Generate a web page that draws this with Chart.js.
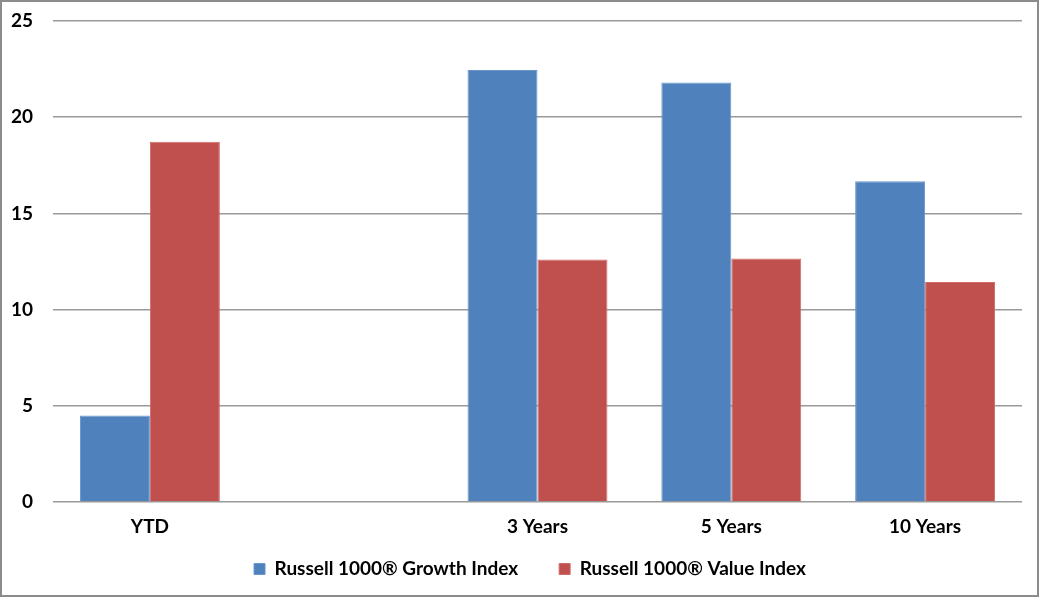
<!DOCTYPE html>
<html>
<head>
<meta charset="utf-8">
<script src="https://cdn.jsdelivr.net/npm/chart.js@4/dist/chart.umd.min.js"></script>
<style>
  body { margin: 0; background: #fff; }
  canvas { display: block; }
</style>
</head>
<body>
<canvas id="returns" width="1040" height="598"></canvas>
<script>
// periods (the blank one is an empty slot between YTD and 3 Years)
const periods = ['YTD', '', '3 Years', '5 Years', '10 Years'];
const growthIndex = [4.5, null, 22.45, 21.8, 16.67];
const valueIndex = [18.73, null, 12.6, 12.66, 11.43];
const yTicks = [0, 5, 10, 15, 20, 25];

const labelFont = { family: 'Lato, "Open Sans", sans-serif', size: 19, weight: 'bold' };

// gray frame around the whole picture
const framePlugin = {
    id: 'frame',
    beforeDraw(chart) {
        const ctx = chart.ctx;
        ctx.save();
        ctx.fillStyle = '#fff';
        ctx.fillRect(0, 0, chart.width, chart.height);
        ctx.strokeStyle = '#8c8c8c';
        ctx.lineWidth = 2;
        ctx.strokeRect(1, 1, 1037, 595);
        ctx.restore();
    }
};

// the wide gap between legend items costs vertical room, so move the legend box back up
const legendNudge = {
    id: 'legendNudge',
    afterLayout(chart) {
        const lg = chart.legend;
        lg.top -= 23.5;
        lg.height = 70;
        lg.bottom = lg.top + lg.height;
        lg.left += 19;
        lg.right += 19;
    }
};

new Chart(document.getElementById('returns'), {
    type: 'bar',
    data: {
        labels: periods,
        datasets: [{
            label: 'Russell 1000® Growth Index',
            data: growthIndex,
            backgroundColor: '#4F81BD',
            borderColor: '#6a96cc',
            borderWidth: 1
        }, {
            label: 'Russell 1000® Value Index',
            data: valueIndex,
            backgroundColor: '#C0504D',
            borderColor: '#cf6b68',
            borderWidth: 1
        }]
    },
    options: {
        responsive: false,
        animation: false,
        categoryPercentage: 0.722,
        barPercentage: 1,
        layout: { padding: { top: 21, right: 18, bottom: 6, left: 0 } },
        plugins: {
            tooltip: { enabled: false },
            legend: {
                position: 'bottom',
                maxHeight: 50,
                labels: {
                    color: '#000',
                    font: labelFont,
                    boxWidth: 11,
                    boxHeight: 11,
                    padding: 41
                }
            }
        },
        scales: {
            x: {
                grid: { display: false, drawTicks: false },
                border: { display: false },
                ticks: { color: '#000', font: labelFont, padding: 13 },
                afterFit: s => { s.height = 40; s.paddingLeft = 0; s.paddingRight = 0; }
            },
            y: {
                min: 0,
                max: 25,
                afterBuildTicks: s => { s.ticks = yTicks.map(v => ({ value: v })); },
                grid: { color: '#9a9a9a', lineWidth: 1.4, drawTicks: false },
                border: { display: false },
                ticks: { color: '#000', font: labelFont, padding: 20 },
                afterFit: s => { s.width = 53; s.paddingTop = 0; s.paddingBottom = 0; }
            }
        }
    },
    plugins: [framePlugin, legendNudge]
});
</script>
</body>
</html>
